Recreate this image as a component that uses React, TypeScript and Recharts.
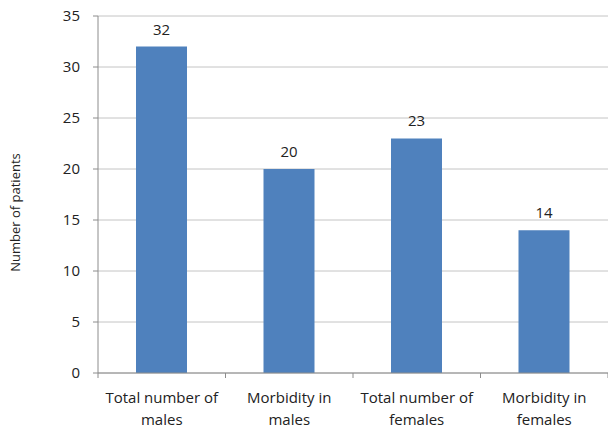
import React from 'react';
import { BarChart, Bar, XAxis, YAxis, CartesianGrid, LabelList } from 'recharts';

const categories = ['Total number of|males', 'Morbidity in|males', 'Total number of|females', 'Morbidity in|females'];
const patients = [32, 20, 23, 14];
const yTicks = [0, 5, 10, 15, 20, 25, 30, 35];

const chartData = categories.map((name, i) => ({ name, patients: patients[i] }));

const FONT = '"Open Sans", "Noto Sans", sans-serif';

// two-line category label plus a tick mark on the left edge of each band
const CategoryTick = (props: any) => {
  const { x, y, payload, index, visibleTicksCount } = props;
  const off = payload.offset || 0;
  const axisY = y - 5;
  const lines = String(payload.value).split('|');
  return (
    <g>
      <line x1={x - off} x2={x - off} y1={axisY} y2={axisY + 5} stroke="#8c8c8c" />
      {index === visibleTicksCount - 1 && (
        <line x1={x + off} x2={x + off} y1={axisY} y2={axisY + 5} stroke="#8c8c8c" />
      )}
      <text x={x} y={y} textAnchor="middle" fill="#222" fontSize={15} fontFamily={FONT}>
        {lines.map((l, i) => (
          <tspan key={i} x={x} dy={i === 0 ? 25 : 22}>{l}</tspan>
        ))}
      </text>
    </g>
  );
};

export default function App() {
  return (
    <div style={{ width: 608, height: 429, background: '#fff' }}>
      <style>{'body{margin:0}'}</style>
      <BarChart
        width={608}
        height={429}
        data={chartData}
        margin={{ top: 16, right: 0, left: 0, bottom: 0 }}
      >
        <CartesianGrid vertical={false} stroke="#c4c4c4" />
        <XAxis
          dataKey="name"
          height={56}
          axisLine={{ stroke: '#8c8c8c' }}
          tickLine={false}
          tickSize={5}
          tickMargin={0}
          interval={0}
          tick={<CategoryTick />}
        />
        <YAxis
          width={98}
          domain={[0, 35]}
          ticks={yTicks}
          interval={0}
          axisLine={{ stroke: '#8c8c8c' }}
          tickLine={{ stroke: '#8c8c8c' }}
          tickSize={5}
          tickMargin={13}
          tick={{ fill: '#222', fontSize: 15, fontFamily: FONT }}
          label={{
            value: 'Number of patients',
            angle: -90,
            position: 'insideLeft',
            offset: 15,
            dy: 18,
            style: { fill: '#222', fontSize: 13, fontFamily: FONT, textAnchor: 'middle' },
          }}
        />
        <Bar dataKey="patients" fill="#4f81bd" barSize={51} isAnimationActive={false}>
          <LabelList dataKey="patients" position="top" offset={12} fill="#222" fontSize={15} fontFamily={FONT} />
        </Bar>
      </BarChart>
    </div>
  );
}
